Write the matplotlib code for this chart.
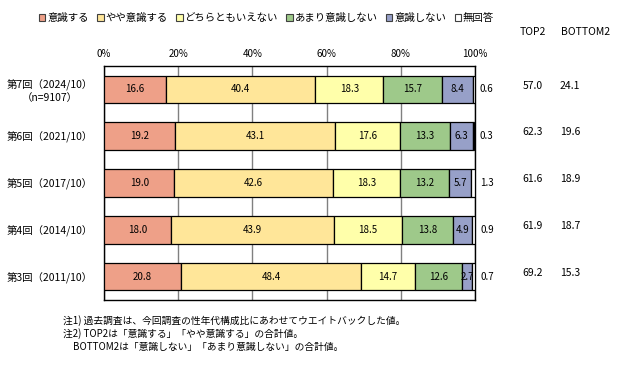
import matplotlib
matplotlib.use('Agg')
import matplotlib.pyplot as plt
from matplotlib.patches import Patch
import numpy as np

plt.rcParams['font.family'] = ['Noto Sans CJK JP', 'DejaVu Sans']

rounds = ['第7回（2024/10）\n（n=9107）', '第6回（2021/10）', '第5回（2017/10）',
          '第4回（2014/10）', '第3回（2011/10）']
categories = ['意識する', 'やや意識する', 'どちらともいえない', 'あまり意識しない', '意識しない', '無回答']
ishiki_suru = [16.6, 19.2, 19.0, 18.0, 20.8]
yaya_ishiki = [40.4, 43.1, 42.6, 43.9, 48.4]
dochira = [18.3, 17.6, 18.3, 18.5, 14.7]
amari = [15.7, 13.3, 13.2, 13.8, 12.6]
ishiki_shinai = [8.4, 6.3, 5.7, 4.9, 2.7]
mukaito = [0.6, 0.3, 1.3, 0.9, 0.7]
top2 = [57.0, 62.3, 61.6, 61.9, 69.2]
bottom2 = [24.1, 19.6, 18.9, 18.7, 15.3]
xticks = [0, 20, 40, 60, 80, 100]

colors = ['#EEA088', '#FFE699', '#FFFFAA', '#9EC98A', '#97A0C8', '#FFFFFF']
series = [ishiki_suru, yaya_ishiki, dochira, amari, ishiki_shinai, mukaito]

W, H = 624, 367
fig = plt.figure(figsize=(W / 100, H / 100), dpi=100)
ax = fig.add_axes([104 / W, 1 - 300 / H, 371 / W, 234 / H])

y = np.arange(len(rounds))
left = np.zeros(len(rounds))
for i, (vals, color) in enumerate(zip(series, colors)):
    vals = np.array(vals)
    ax.barh(y, vals, left=left, height=0.59, color=color, edgecolor='black',
            linewidth=0.9, zorder=3)
    for yy, v, l in zip(y, vals, left):
        if i < len(series) - 1:
            ax.text(l + v / 2, yy, f'{v:.1f}', ha='center', va='center',
                    fontsize=7, zorder=4)
        else:
            # no-answer value sits outside the frame
            ax.text(103.2, yy, f'{v:.1f}', ha='center', va='center',
                    fontsize=7, clip_on=False)
    left = left + vals

for yy, t, b in zip(y, top2, bottom2):
    ax.text(115.6, yy - 0.08, f'{t:.1f}', ha='center', va='center', fontsize=7.5, clip_on=False)
    ax.text(125.6, yy - 0.08, f'{b:.1f}', ha='center', va='center', fontsize=7.5, clip_on=False)
fig.text(533 / W, 1 - 32 / H, 'TOP2', ha='center', va='center', fontsize=7.5)
fig.text(586 / W, 1 - 32 / H, 'BOTTOM2', ha='center', va='center', fontsize=7.5)

ax.set_xlim(0, 100)
ax.set_ylim(len(rounds) - 0.5, -0.5)
ax.xaxis.tick_top()
ax.set_xticks(xticks, [f'{v}%' for v in xticks], fontsize=7)
ax.set_yticks(y, rounds, fontsize=7.5)
for lab in ax.get_yticklabels():
    lab.set_multialignment('center')
ax.tick_params(axis='both', length=0)
ax.tick_params(axis='x', pad=5)
ax.tick_params(axis='y', pad=8)
ax.grid(axis='x', color='#808080', linewidth=1, zorder=0)
ax.set_axisbelow(True)
for sp in ax.spines.values():
    sp.set_color('black')
    sp.set_linewidth(1)

handles = [Patch(facecolor=c, edgecolor='#404040', linewidth=0.8) for c in colors]
fig.legend(handles, categories, loc='center left', bbox_to_anchor=(34 / W, 1 - 18 / H),
           ncol=6, frameon=False, fontsize=7.5, handlelength=0.6, handleheight=0.6,
           handletextpad=0.2, columnspacing=0.8, borderpad=0)

fig.text(63 / W, 1 - 321 / H, '注1) 過去調査は、今回調査の性年代構成比にあわせてウエイトバックした値。',
         ha='left', va='center', fontsize=7)
fig.text(63 / W, 1 - 334 / H, '注2) TOP2は「意識する」「やや意識する」の合計値。',
         ha='left', va='center', fontsize=7)
fig.text(73 / W, 1 - 347 / H, 'BOTTOM2は「意識しない」「あまり意識しない」の合計値。',
         ha='left', va='center', fontsize=7)

fig.savefig('out.png', dpi=100)
